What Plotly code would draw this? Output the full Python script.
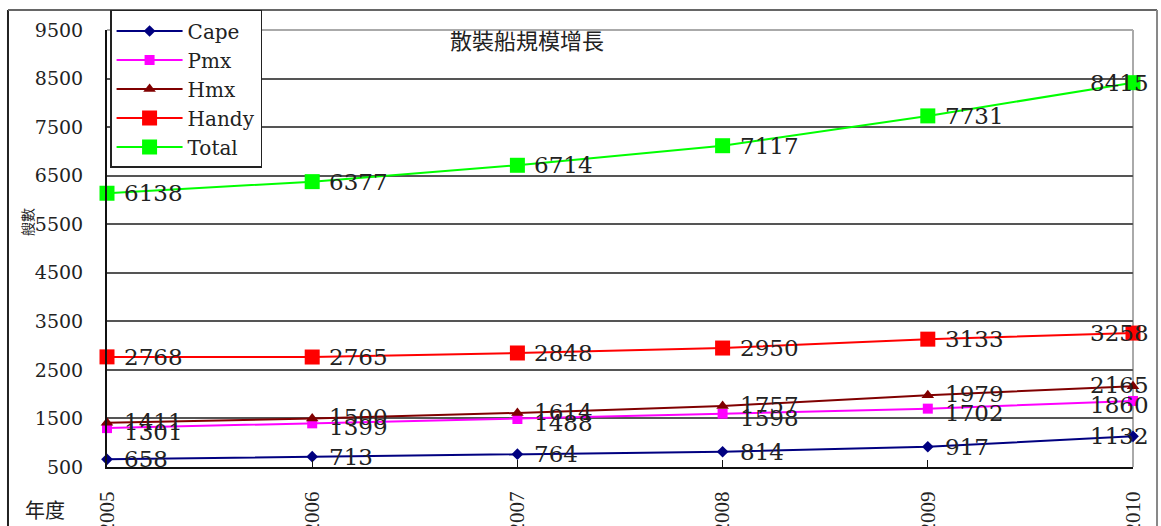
import plotly.graph_objects as go

# Bulk carrier fleet size by year
years = [2005, 2006, 2007, 2008, 2009, 2010]
cape = [658, 713, 764, 814, 917, 1132]
pmx = [1301, 1399, 1488, 1598, 1702, 1860]
hmx = [1411, 1500, 1614, 1757, 1979, 2165]
handy = [2768, 2765, 2848, 2950, 3133, 3258]
total = [6138, 6377, 6714, 7117, 7731, 8415]

y_ticks = list(range(500, 10000, 1000))

LABEL_FONT = "DejaVu Serif"
YEAR_FONT = "Liberation Serif"
CJK_FONT = "Noto Sans CJK TC"

series = [
    # name, values, color, symbol, marker size, label y shift
    ("Cape", cape, "#000080", "diamond", 9, 0),
    ("Pmx", pmx, "#FF00FF", "square", 10, -4),
    ("Hmx", hmx, "#800000", "triangle-up", 11, 1),
    ("Handy", handy, "#FF0000", "square", 15, 0),
    ("Total", total, "#00FF00", "square", 15, 0),
]

fig = go.Figure()
annotations = []
for name, vals, color, symbol, msize, yshift in series:
    fig.add_trace(go.Scatter(
        x=years, y=vals, name=name, mode="lines+markers",
        line=dict(color=color, width=2),
        marker=dict(symbol=symbol, size=msize, color=color, line=dict(width=0)),
        cliponaxis=False,
    ))
    for i, (xv, yv) in enumerate(zip(years, vals)):
        last = i == len(years) - 1
        annotations.append(dict(
            x=xv, y=yv, xref="x", yref="y", text=str(yv), showarrow=False,
            xanchor="right" if last else "left", yanchor="middle",
            xshift=18 if last else 15, yshift=yshift,
            font=dict(family=LABEL_FONT, size=23, color="#222"),
        ))

# chart title and axis captions
annotations += [
    dict(text="散裝船規模增長", x=0.409, y=0.98, xref="paper", yref="paper",
         showarrow=False, xanchor="center", yanchor="middle",
         font=dict(family=CJK_FONT, size=22, color="#222")),
    dict(text="年度", x=-0.0604, y=-0.098, xref="paper", yref="paper",
         showarrow=False, xanchor="center", yanchor="middle",
         font=dict(family=CJK_FONT, size=20, color="#222")),
    dict(text="艘數", x=-0.078, y=0.5606, xref="paper", yref="paper",
         showarrow=False, xanchor="center", yanchor="middle", textangle=-90,
         font=dict(family=CJK_FONT, size=14, color="#222")),
]

shapes = [
    # outer chart frame
    dict(type="line", xref="paper", yref="paper", x0=-0.0965, x1=-0.0965, y0=1.0458, y1=-0.3,
         line=dict(color="#222", width=2)),
    dict(type="line", xref="paper", yref="paper", x0=-0.0965, x1=1.0234, y0=1.0458, y1=1.0458,
         line=dict(color="#666", width=2)),
    dict(type="line", xref="paper", yref="paper", x0=1.0234, x1=1.0234, y0=1.0458, y1=-0.3,
         line=dict(color="#888", width=2)),
    # plot area top and right border
    dict(type="line", xref="paper", yref="paper", x0=0, x1=1, y0=1, y1=1,
         line=dict(color="#aaa", width=2), layer="below"),
    dict(type="line", xref="paper", yref="paper", x0=1, x1=1, y0=0, y1=1,
         line=dict(color="#aaa", width=2), layer="below"),
]

fig.update_layout(
    width=1161, height=526,
    margin=dict(l=107, r=28, t=30, b=59, autoexpand=False),
    paper_bgcolor="white", plot_bgcolor="white",
    annotations=annotations, shapes=shapes,
    legend=dict(
        x=0.003, y=1.0458, xanchor="left", yanchor="top",
        bgcolor="white", bordercolor="#222", borderwidth=1.5,
        font=dict(family=LABEL_FONT, size=20, color="#222"),
        itemwidth=66, tracegroupgap=0,
    ),
    xaxis=dict(
        range=[2005, 2010], tickvals=years, ticktext=[str(y) for y in years],
        tickangle=-90, showgrid=False, zeroline=False, automargin=False,
        showline=True, linecolor="#111", linewidth=2,
        ticks="inside", ticklen=7, tickcolor="#111",
        tickfont=dict(family=YEAR_FONT, size=21, color="#222"),
        ticklabelstandoff=14,
    ),
    yaxis=dict(
        range=[500, 9500], tickvals=y_ticks, ticktext=[str(v) for v in y_ticks],
        showgrid=True, gridcolor="#555", gridwidth=1.5, zeroline=False, automargin=False,
        showline=True, linecolor="#111", linewidth=2, ticks="",
        tickfont=dict(family=LABEL_FONT, size=19, color="#222"),
        ticklabelstandoff=18,
    ),
)

fig.write_html("out.html")
